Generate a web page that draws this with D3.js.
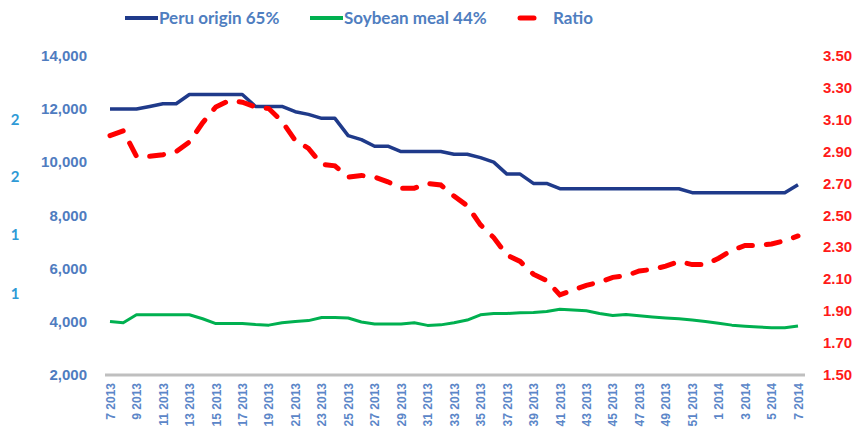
<!DOCTYPE html>
<html>
<head>
<meta charset="utf-8">
<script src="https://cdn.jsdelivr.net/npm/d3@7"></script>
<style>
  body { margin: 0; background: #fff; }
  svg { display: block; font-family: Lato, "Open Sans", sans-serif; }
  .tick text { font-weight: bold; }
</style>
</head>
<body>
<div id="chart"></div>
<script>
// weekly labels, week 7 2013 .. week 7 2014
const weeks = [
  "7 2013","8 2013","9 2013","10 2013","11 2013","12 2013","13 2013","14 2013","15 2013","16 2013",
  "17 2013","18 2013","19 2013","20 2013","21 2013","22 2013","23 2013","24 2013","25 2013","26 2013",
  "27 2013","28 2013","29 2013","30 2013","31 2013","32 2013","33 2013","34 2013","35 2013","36 2013",
  "37 2013","38 2013","39 2013","40 2013","41 2013","42 2013","43 2013","44 2013","45 2013","46 2013",
  "47 2013","48 2013","49 2013","50 2013","51 2013","52 2013","1 2014","2 2014","3 2014","4 2014",
  "5 2014","6 2014","7 2014"
];

const peru = [
  12000,12000,12000,12100,12200,12200,12550,12550,12550,12550,
  12550,12100,12100,12100,11900,11800,11650,11650,11000,10850,
  10600,10600,10400,10400,10400,10400,10300,10300,10170,10000,
  9550,9550,9200,9200,9000,9000,9000,9000,9000,9000,
  9000,9000,9000,9000,8850,8850,8850,8850,8850,8850,
  8850,8850,9150
];

const soymeal = [
  4000,3950,4250,4250,4250,4250,4250,4100,3920,3920,
  3920,3880,3860,3950,4000,4030,4150,4150,4130,3980,
  3900,3900,3900,3950,3850,3870,3950,4050,4250,4300,
  4300,4330,4340,4370,4460,4430,4400,4300,4220,4260,
  4210,4170,4130,4100,4050,4000,3930,3860,3820,3790,
  3760,3760,3830
];

const ratio = [
  3.00,3.03,2.87,2.87,2.88,2.90,2.96,3.08,3.18,3.22,
  3.21,3.18,3.17,3.09,2.97,2.92,2.82,2.81,2.74,2.75,
  2.74,2.71,2.67,2.67,2.70,2.69,2.62,2.56,2.44,2.36,
  2.25,2.21,2.13,2.09,2.00,2.03,2.06,2.08,2.11,2.12,
  2.15,2.16,2.18,2.21,2.19,2.19,2.23,2.28,2.31,2.31,
  2.32,2.34,2.37
];

const leftTicks = [2000, 4000, 6000, 8000, 10000, 12000, 14000];
const rightTicks = [1.5, 1.7, 1.9, 2.1, 2.3, 2.5, 2.7, 2.9, 3.1, 3.3, 3.5];
// stray secondary labels at the far left of the original
const strayLabels = ["2", "2", "1", "1"];
const strayValues = [11600, 9450, 7250, 5050];

const W = 857, H = 430;
const svg = d3.select("#chart").append("svg")
    .attr("width", W)
    .attr("height", H);

const x = d3.scaleLinear().domain([0, weeks.length - 1]).range([110, 798]);
const yL = d3.scaleLinear().domain([2000, 14000]).range([374.5, 56]);
const yR = d3.scaleLinear().domain([1.5, 3.5]).range([374.5, 56]);

// baseline
svg.append("line")
    .attr("x1", 105).attr("x2", 805)
    .attr("y1", 375).attr("y2", 375)
    .attr("stroke", "#bfbfbf")
    .attr("stroke-width", 3);

// left axis
const axL = svg.append("g")
    .attr("transform", "translate(96,0)")
    .call(d3.axisLeft(yL).tickValues(leftTicks).tickSize(0).tickPadding(9)
        .tickFormat(d3.format(",")));
axL.select(".domain").remove();
axL.selectAll("text")
    .attr("fill", "#4f7cc0")
    .style("font-size", "15px");

// right axis
const axR = svg.append("g")
    .attr("transform", "translate(814,0)")
    .call(d3.axisRight(yR).tickValues(rightTicks).tickSize(0).tickPadding(9)
        .tickFormat(d3.format(".2f")));
axR.select(".domain").remove();
axR.selectAll("text")
    .attr("fill", "#ff1a1a")
    .style("font-size", "15px");

// bottom axis, every other week
const axB = svg.append("g")
    .attr("transform", "translate(0,375)")
    .call(d3.axisBottom(x)
        .tickValues(d3.range(0, weeks.length, 2))
        .tickSize(0)
        .tickFormat(i => weeks[i]));
axB.select(".domain").remove();
axB.selectAll("text")
    .attr("transform", "rotate(-90)")
    .attr("text-anchor", "end")
    .attr("x", -8)
    .attr("y", 0)
    .attr("dy", "0.35em")
    .attr("fill", "#5b86c8")
    .style("font-size", "12px");

// stray labels
svg.selectAll(".stray")
    .data(strayLabels)
    .enter().append("text")
    .attr("class", "stray")
    .attr("x", 15)
    .attr("y", (d, i) => yL(strayValues[i]))
    .attr("dy", "0.35em")
    .attr("text-anchor", "middle")
    .attr("fill", "#2e9ad6")
    .style("font-size", "15px")
    .style("font-weight", "bold")
    .text(d => d);

// lines
const lineL = d3.line().x((d, i) => x(i)).y(d => yL(d));
const lineR = d3.line().x((d, i) => x(i)).y(d => yR(d));

svg.append("path")
    .datum(soymeal)
    .attr("d", lineL)
    .attr("fill", "none")
    .attr("stroke", "#00b050")
    .attr("stroke-width", 3)
    .attr("stroke-linejoin", "round");

svg.append("path")
    .datum(peru)
    .attr("d", lineL)
    .attr("fill", "none")
    .attr("stroke", "#1f3a8a")
    .attr("stroke-width", 3.5)
    .attr("stroke-linejoin", "round");

svg.append("path")
    .datum(ratio)
    .attr("d", lineR)
    .attr("fill", "none")
    .attr("stroke", "#ff0000")
    .attr("stroke-width", 5)
    .attr("stroke-linecap", "round")
    .attr("stroke-dasharray", "14,14");

// legend
const legend = [
  { name: "Peru origin 65%", color: "#1f3a8a", x: 125, w: 33, dash: null },
  { name: "Soybean meal 44%", color: "#00b050", x: 310, w: 33, dash: null },
  { name: "Ratio", color: "#ff0000", x: 520, w: 14, dash: "round", tx: 553 }
];
const lg = svg.selectAll(".legend")
    .data(legend)
    .enter().append("g")
    .attr("class", "legend");
lg.append("line")
    .attr("x1", d => d.x).attr("x2", d => d.x + d.w)
    .attr("y1", 18).attr("y2", 18)
    .attr("stroke", d => d.color)
    .attr("stroke-width", d => d.dash ? 5 : 4)
    .attr("stroke-linecap", d => d.dash ? "round" : "butt");
lg.append("text")
    .attr("x", d => d.tx || d.x + d.w + 1)
    .attr("y", 18)
    .attr("dy", "0.35em")
    .attr("fill", "#4f7ec0")
    .style("font-size", "17px")
    .style("font-weight", "bold")
    .text(d => d.name);
</script>
</body>
</html>
